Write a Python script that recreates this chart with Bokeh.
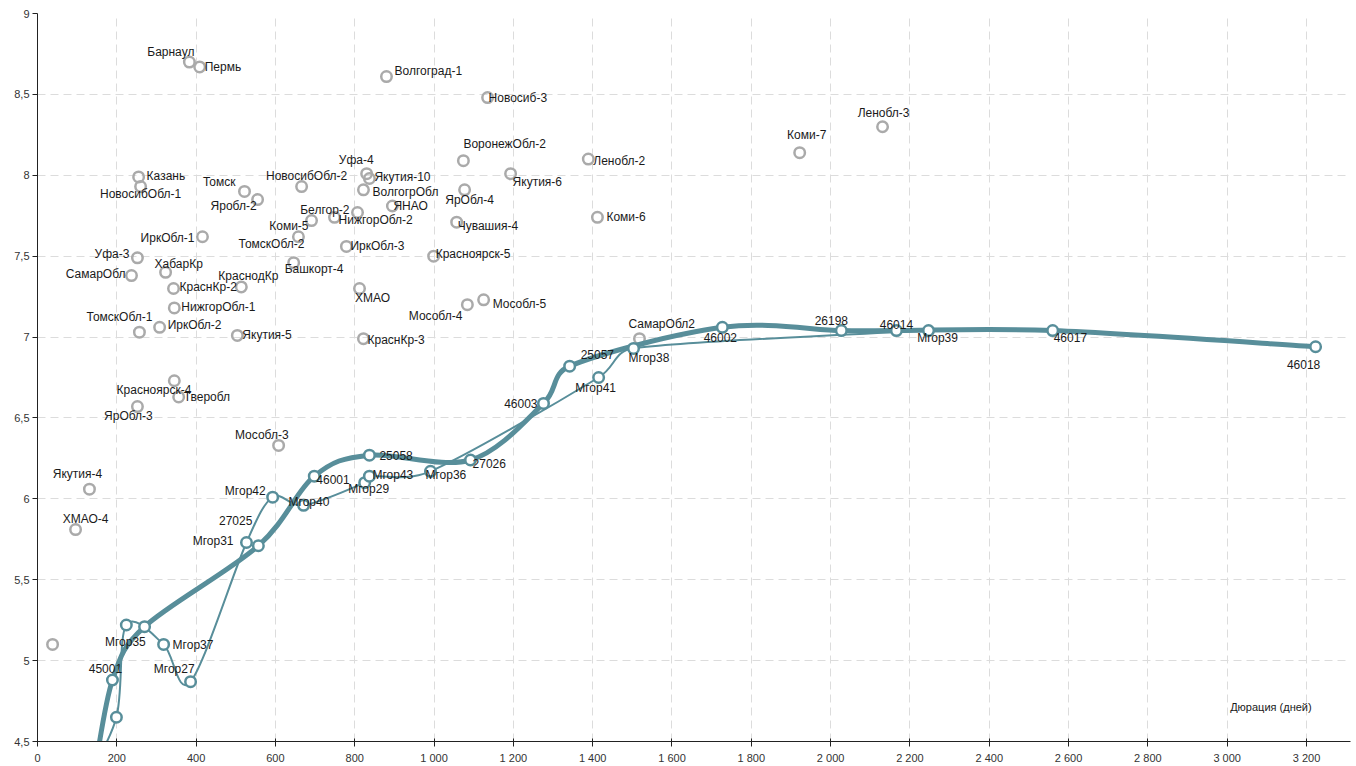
from bokeh.plotting import figure
from bokeh.models import ColumnDataSource, FixedTicker, Range1d, Label, CustomJSTickFormatter
from bokeh.embed import file_html
from bokeh.resources import INLINE
from bokeh.core.properties import value

# ---- Data: duration (days) vs yield (%) ----
# Regional / municipal bonds (grey markers)
grey_names = [
    "Барнаул", "Пермь", "Волгоград-1", "Новосиб-3", "ВоронежОбл-2", "Ленобл-2",
    "Уфа-4", "Якутия-10", "ВолгогрОбл", "ЯНАО", "НижгорОбл-2", "Белгор-2",
    "ЯрОбл-4", "Якутия-6", "Чувашия-4", "Коми-6", "ИркОбл-3", "Красноярск-5",
    "Казань", "НовосибОбл-1", "Томск", "Яробл-2", "НовосибОбл-2", "Коми-5",
    "ТомскОбл-2", "ИркОбл-1", "Уфа-3", "ХабарКр", "СамарОбл", "КраснКр-2",
    "КраснодКр", "НижгорОбл-1", "ТомскОбл-1", "ИркОбл-2", "Якутия-5", "Башкорт-4",
    "Красноярск-4", "Тверобл", "ЯрОбл-3", "Мособл-3", "Якутия-4", "ХМАО-4",
    "ХМАО", "Мособл-5", "Мособл-4", "КраснКр-3", "СамарОбл2", "Ленобл-3",
    "Коми-7", "",
]
grey_dur = [
    383, 409, 880, 1135, 1074, 1389,
    830, 837, 822, 895, 807, 749,
    1077, 1193, 1057, 1412, 779, 999,
    255, 260, 522, 555, 666, 691,
    658, 416, 252, 323, 237, 343,
    514, 345, 257, 308, 504, 646,
    345, 356, 252, 608, 131, 96,
    812, 1125, 1084, 822, 1518, 2131,
    1922, 38,
]
grey_yield = [
    8.70, 8.67, 8.61, 8.48, 8.09, 8.10,
    8.01, 7.98, 7.91, 7.81, 7.77, 7.74,
    7.91, 8.01, 7.71, 7.74, 7.56, 7.50,
    7.99, 7.93, 7.90, 7.85, 7.93, 7.72,
    7.62, 7.62, 7.49, 7.40, 7.38, 7.30,
    7.31, 7.18, 7.03, 7.06, 7.01, 7.46,
    6.73, 6.63, 6.57, 6.33, 6.06, 5.81,
    7.30, 7.23, 7.20, 6.99, 6.99, 8.30,
    8.14, 5.10,
]

# Federal loan bonds (thick curve)
ofz_names = ["", "45001", "", "27025", "46001", "25058", "27026", "46003",
             "25057", "46002", "26198", "46014", "46017", "46018"]
ofz_dur = [140, 189, 270, 557, 698, 837, 1092, 1276, 1342, 1727, 2027, 2166, 2560, 3223]
ofz_yield = [4.25, 4.88, 5.21, 5.71, 6.14, 6.27, 6.24, 6.59, 6.82, 7.06, 7.04, 7.04, 7.04, 6.94]

# Moscow city bonds (thin curve)
mgor_names = ["", "", "Мгор35", "Мгор37", "Мгор27", "Мгор31", "Мгор42", "Мгор40",
              "Мгор29", "Мгор43", "Мгор36", "Мгор41", "Мгор38", "Мгор39"]
mgor_dur = [120, 199, 224, 318, 386, 527, 593, 671, 825, 837, 991, 1415, 1503, 2247]
mgor_yield = [4.25, 4.65, 5.22, 5.10, 4.87, 5.73, 6.01, 5.96, 6.10, 6.14, 6.17, 6.75, 6.93, 7.04]

x_ticks = list(range(0, 3201, 200))
y_ticks = [4.5, 5.0, 5.5, 6.0, 6.5, 7.0, 7.5, 8.0, 8.5, 9.0]
x_title = "Дюрация (дней)"

# ---- Label placement (alignment, dx px, dy px down) ----
LABEL_POS = {
    "Барнаул": ("right", 5, -10), "Пермь": ("left", 5, 0),
    "Волгоград-1": ("left", 8, -6), "Новосиб-3": ("left", 1, 0),
    "ВоронежОбл-2": ("left", 0, -17), "Ленобл-2": ("left", 5, 2),
    "Уфа-4": ("right", 7, -14), "Якутия-10": ("left", 5, -2),
    "ВолгогрОбл": ("left", 9, 2), "ЯНАО": ("left", 1, 0),
    "НижгорОбл-2": ("left", -19, 8), "Белгор-2": ("right", 15, -7),
    "ЯрОбл-4": ("center", 5, 10), "Якутия-6": ("left", 2, 8),
    "Чувашия-4": ("left", 1, 4), "Коми-6": ("left", 9, 0),
    "ИркОбл-3": ("left", 4, 0), "Красноярск-5": ("left", 2, -2),
    "Казань": ("left", 8, -1), "НовосибОбл-1": ("center", 0, 7),
    "Томск": ("right", -9, -9), "Яробл-2": ("right", -1, 6),
    "НовосибОбл-2": ("center", 5, -11), "Коми-5": ("right", -3, 5),
    "ТомскОбл-2": ("right", 6, 7), "ИркОбл-1": ("right", -8, 1),
    "Уфа-3": ("right", -8, -4), "ХабарКр": ("left", -11, -8),
    "СамарОбл": ("right", -6, -2), "КраснКр-2": ("left", 6, -2),
    "КраснодКр": ("center", 7, -11), "НижгорОбл-1": ("left", 7, -1),
    "ТомскОбл-1": ("right", 13, -15), "ИркОбл-2": ("left", 8, -2),
    "Якутия-5": ("left", 5, 0), "Башкорт-4": ("left", -9, 6),
    "Красноярск-4": ("right", 17, 9), "Тверобл": ("left", 5, 0),
    "ЯрОбл-3": ("center", -9, 9), "Мособл-3": ("right", 10, -10),
    "Якутия-4": ("center", -12, -15), "ХМАО-4": ("center", 10, -11),
    "ХМАО": ("center", 13, 9), "Мособл-5": ("left", 9, 4),
    "Мособл-4": ("right", -5, 11), "КраснКр-3": ("left", 4, 1),
    "СамарОбл2": ("left", -11, -15), "Ленобл-3": ("center", 1, -14),
    "Коми-7": ("center", 7, -18),
    "45001": ("center", -7, -12), "Мгор35": ("center", -1, 17),
    "Мгор37": ("left", 9, 1), "Мгор27": ("right", 4, -13),
    "27025": ("right", -6, -25), "Мгор31": ("right", -13, -2),
    "Мгор42": ("right", -7, -6), "Мгор40": ("left", -15, -3),
    "46001": ("left", 2, 3), "25058": ("left", 10, 0),
    "Мгор43": ("left", 3, -1), "Мгор29": ("center", 4, 6),
    "Мгор36": ("left", -5, 4), "27026": ("left", 2, 3),
    "46003": ("right", -6, 0), "25057": ("left", 11, -12),
    "Мгор41": ("center", -3, 10), "Мгор38": ("left", -5, 10),
    "46002": ("center", -2, 10), "26198": ("center", -10, -10),
    "46014": ("center", 0, -6), "Мгор39": ("center", 9, 7),
    "46017": ("left", 1, 7), "46018": ("center", -12, 18),
}

TEAL = "#588e9a"
GREY = "#aaaaaa"
FONT = "Liberation Sans"

X_RANGE = (0, 3311)
Y_RANGE = (4.5, 9.0)
PLOT_W, PLOT_H = 1356, 766
FRAME_W, FRAME_H = 1356 - 37 - 6, 766 - 13 - 24

p = figure(width=PLOT_W, height=PLOT_H, output_backend="svg", toolbar_location=None,
           x_range=Range1d(*X_RANGE), y_range=Range1d(*Y_RANGE),
           min_border_left=37, min_border_right=6, min_border_top=13,
           min_border_bottom=24)
p.outline_line_color = None
p.background_fill_color = "white"

# Axes
p.xaxis.ticker = FixedTicker(ticks=x_ticks)
p.yaxis.ticker = FixedTicker(ticks=y_ticks)
p.xaxis.formatter = CustomJSTickFormatter(
    code="return Math.round(tick).toString().replace(/\\B(?=(\\d{3})+(?!\\d))/g, ' ');")
p.yaxis.formatter = CustomJSTickFormatter(code="return tick.toString().replace('.', ',');")
for ax in (p.xaxis, p.yaxis):
    ax.axis_line_color = "#222222"
    ax.major_tick_line_color = "#222222"
    ax.minor_tick_line_color = None
    ax.major_label_text_font = FONT
    ax.major_label_text_font_size = "11px"
    ax.major_label_text_color = "#333333"
p.xaxis.major_tick_in = 3
p.xaxis.major_tick_out = 5
p.xaxis.major_label_standoff = 5
p.yaxis.major_tick_in = 0
p.yaxis.major_tick_out = 5
p.yaxis.major_label_standoff = 3

p.xgrid.ticker = FixedTicker(ticks=x_ticks)
p.ygrid.ticker = FixedTicker(ticks=y_ticks)
for g in (p.xgrid, p.ygrid):
    g.grid_line_color = "#dcdcdc"
    g.grid_line_dash = "8 5"
    g.grid_line_width = 1

# pixel-per-unit factors, so handle lengths are measured on screen
KX = FRAME_W / (X_RANGE[1] - X_RANGE[0])
KY = FRAME_H / (Y_RANGE[1] - Y_RANGE[0])


def spline_segments(xs, ys, clamp=0.45):
    """Catmull-Rom bezier control points, handles limited to a share of the chord."""
    n = len(xs)
    seg = dict(x0=[], y0=[], x1=[], y1=[], cx0=[], cy0=[], cx1=[], cy1=[])

    def handle(dx, dy, chord):
        length = ((dx * KX) ** 2 + (dy * KY) ** 2) ** 0.5
        limit = clamp * chord
        if length > limit > 0:
            f = limit / length
            return dx * f, dy * f
        return dx, dy

    for i in range(n - 1):
        a, b = max(i - 1, 0), min(i + 2, n - 1)
        chord = (((xs[i + 1] - xs[i]) * KX) ** 2 + ((ys[i + 1] - ys[i]) * KY) ** 2) ** 0.5
        h0 = handle((xs[i + 1] - xs[a]) / 6, (ys[i + 1] - ys[a]) / 6, chord)
        h1 = handle((xs[b] - xs[i]) / 6, (ys[b] - ys[i]) / 6, chord)
        seg["x0"].append(xs[i]); seg["y0"].append(ys[i])
        seg["x1"].append(xs[i + 1]); seg["y1"].append(ys[i + 1])
        seg["cx0"].append(xs[i] + h0[0]); seg["cy0"].append(ys[i] + h0[1])
        seg["cx1"].append(xs[i + 1] - h1[0]); seg["cy1"].append(ys[i + 1] - h1[1])
    return ColumnDataSource(seg)


# Grey scatter
p.scatter(grey_dur, grey_yield, size=10.5, fill_color="white", fill_alpha=0,
          line_color=GREY, line_width=2.5)

# Curves
p.bezier(x0="x0", y0="y0", x1="x1", y1="y1", cx0="cx0", cy0="cy0", cx1="cx1", cy1="cy1",
         source=spline_segments(mgor_dur, mgor_yield), line_color=TEAL, line_width=2,
         line_cap="round")
p.bezier(x0="x0", y0="y0", x1="x1", y1="y1", cx0="cx0", cy0="cy0", cx1="cx1", cy1="cy1",
         source=spline_segments(ofz_dur, ofz_yield), line_color=TEAL, line_width=5,
         line_cap="round")

p.scatter(mgor_dur, mgor_yield, size=10.5, fill_color="white", line_color=TEAL, line_width=2.5)
p.scatter(ofz_dur, ofz_yield, size=10.5, fill_color="white", line_color=TEAL, line_width=2.5)


def add_labels(names, xs, ys):
    groups = {}
    for n, x, y in zip(names, xs, ys):
        if not n:
            continue
        align, dx, dy = LABEL_POS[n]
        g = groups.setdefault(align, dict(x=[], y=[], text=[], dx=[], dy=[]))
        g["x"].append(x); g["y"].append(y); g["text"].append(n)
        g["dx"].append(dx); g["dy"].append(dy)
    for align, g in groups.items():
        p.text(x="x", y="y", text="text", x_offset="dx", y_offset="dy",
               source=ColumnDataSource(g), text_align=align, text_baseline="middle",
               text_font=value(FONT), text_font_size="12px", text_color="#1a1a1a")


add_labels(grey_names, grey_dur, grey_yield)
add_labels(ofz_names, ofz_dur, ofz_yield)
add_labels(mgor_names, mgor_dur, mgor_yield)

p.add_layout(Label(x=3213, y=4.716, text=x_title, text_align="right",
                   text_baseline="middle", text_font=FONT, text_font_size="11px",
                   text_color="#1a1a1a"))

open("out.html", "w").write(file_html(p, INLINE))
